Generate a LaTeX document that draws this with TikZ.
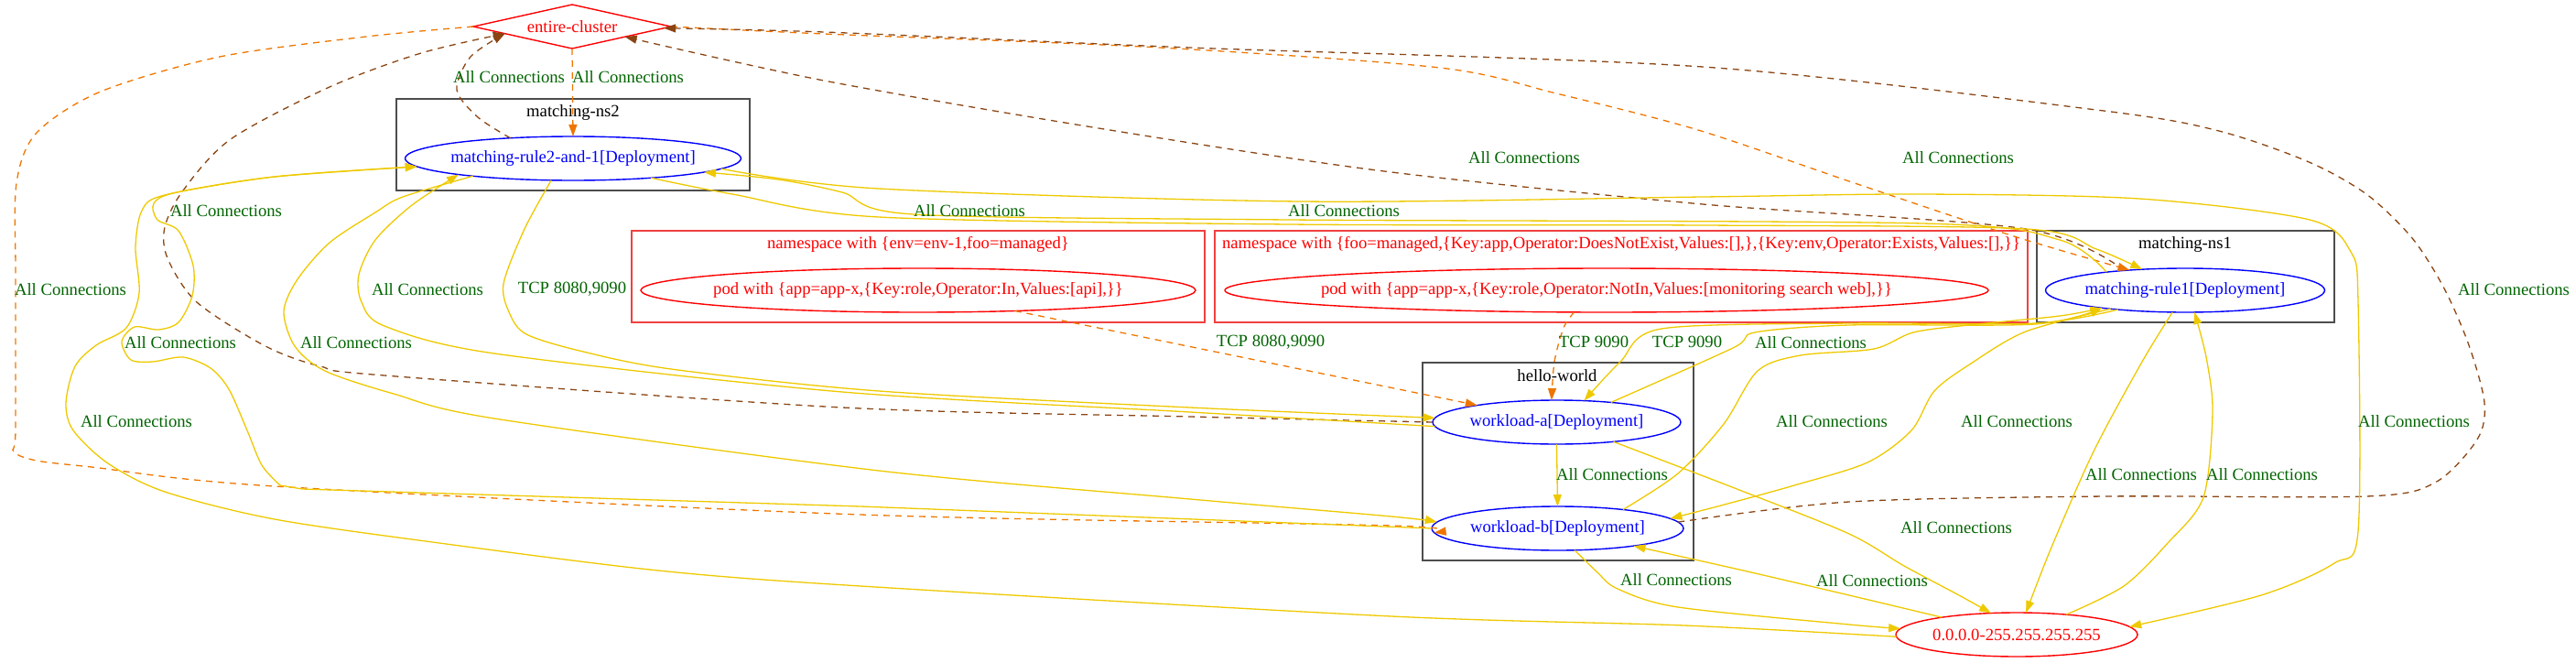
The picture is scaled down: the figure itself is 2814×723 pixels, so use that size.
\documentclass[tikz,border=0pt]{standalone}
\usepackage{fontspec}
\setmainfont{Liberation Serif}
\usetikzlibrary{arrows.meta,shapes.geometric}
\definecolor{cY}{HTML}{EEC900}
\definecolor{cO}{HTML}{EE7600}
\definecolor{cB}{HTML}{8B4513}
\definecolor{cG}{HTML}{006400}
\definecolor{cBox}{HTML}{4D4D4D}
\definecolor{cNs}{HTML}{F04040}
\begin{document}
\begin{tikzpicture}[x=1pt,y=-1pt,
  every node/.style={font=\fontsize{18.67}{22}\selectfont, outer sep=0pt, inner sep=0pt},
  wl/.style={ellipse, draw=blue, text=blue, line width=1.4pt, minimum height=48pt},
  ipn/.style={ellipse, draw=red, text=red, line width=1.4pt, minimum height=48pt},
  clu/.style={draw=cBox, line width=2pt, rectangle, minimum height=100pt},
  nsbox/.style={draw=cNs, line width=2pt, rectangle, minimum height=100pt},
  lbl/.style={text=cG},
  tipa/.style={-{Triangle[length=13pt,width=9pt]}},
  ye/.style={draw=cY, line width=1.3pt, tipa},
  oe/.style={draw=cO, line width=1.3pt, dash pattern=on 7pt off 6pt, tipa},
  be/.style={draw=cB, line width=1.3pt, dash pattern=on 7pt off 6pt, tipa},
]
\useasboundingbox (0,0) rectangle (2814,723);

% clusters
\node[clu, minimum width=386pt] (ns2box) at (626,158) {};
\node (ns2lab) at (626,123) {matching-ns2};
\node[nsbox, minimum width=626pt] (nsAbox) at (1003,302) {};
\node[text=red] (nsAlab) at (1003,267) {namespace with \{env=env-1,foo=managed\}};
\node[nsbox, minimum width=888pt] (nsBbox) at (1771,302) {};
\node[text=red] (nsBlab) at (1771,267) {namespace with \{foo=managed,\{Key:app,Operator:DoesNotExist,Values:[],\},\{Key:env,Operator:Exists,Values:[],\}\}};
\node[clu, minimum width=325pt] (ns1box) at (2387.5,302) {};
\node (ns1lab) at (2387,267) {matching-ns1};
\node[clu, minimum width=296pt, minimum height=216pt] (hwbox) at (1702,504) {};
\node (hwlab) at (1701,410) {hello-world};

% nodes
\node[diamond, draw=red, text=red, line width=1.4pt, shape aspect=4.5, minimum width=216pt, minimum height=48pt] (E) at (625,29) {\makebox[0pt]{entire-cluster}};
\node[wl, minimum width=367pt] (M2) at (626,173) {\makebox[0pt]{matching-rule2-and-1[Deployment]}};
\node[ipn, minimum width=606pt] (P1) at (1003,317) {\makebox[0pt]{pod with \{app=app-x,\{Key:role,Operator:In,Values:[api],\}\}}};
\node[ipn, minimum width=834pt] (P2) at (1755,317) {\makebox[0pt]{pod with \{app=app-x,\{Key:role,Operator:NotIn,Values:[monitoring search web],\}\}}};
\node[wl, minimum width=305pt] (M1) at (2387,317) {\makebox[0pt]{matching-rule1[Deployment]}};
\node[wl, minimum width=271pt] (A) at (1700.5,461) {\makebox[0pt]{workload-a[Deployment]}};
\node[wl, minimum width=275pt] (B) at (1701.5,577) {\makebox[0pt]{workload-b[Deployment]}};
\node[ipn, minimum width=264pt] (I) at (2203,693) {\makebox[0pt]{0.0.0.0-255.255.255.255}};

% entire-cluster edges
\draw[oe] (E.south) -- (M2.north);
\draw[be] plot[smooth] coordinates {(M2.162) (522,128) (499,98) (514,62) (E.186)};
\draw[oe] plot[smooth] coordinates {(E.west) (400,40) (240,62) (110,100) (40,145) (18,200) (17,300) (17,470) (15,493) (40,503) (100,510) (300,531) (940,562) (1520,574) (B.182)};
\draw[be] plot[smooth] coordinates {(A.180) (1300,455) (920,445) (420,410) (350,400) (290,378) (215,330) (183,282) (180,248) (200,208) (252,152) (360,95) (460,58) (E.186)};
\draw[be] plot[smooth] coordinates {(M1.162) (2213,250) (1860,223) (1512,187) (1200,140) (900,88) (E.349)};
\draw[oe] plot[smooth] coordinates {(E.east) (900,37) (1267,52) (1573,74) (1700,102) (1855,142) (2026,200) (2200,258) (M1.160)};
\draw[be] plot[smooth] coordinates {(B.3) (2020,548) (2300,542) (2585,542) (2660,527) (2706,480) (2714,440) (2697,377) (2670,315) (2635,260) (2585,212) (2520,176) (2420,142) (2290,120) (1860,73) (1300,52) (900,35) (E.359)};

% pod edges
\draw[oe] (P1.348) -- (A.168);
\draw[oe] plot[smooth] coordinates {(P2.214) (1708,358) (1698,395) (A.103)};

% workload edges
\draw[ye] plot[smooth] coordinates {(M2.225) (573,250) (550,310) (557,343) (575,365) (633,383) (733,403) (960,427) (1300,445) (A.178)};
\draw[ye] plot[smooth] coordinates {(A.182) (1300,450) (920,428) (540,386) (420,356) (395,330) (392,300) (410,262) (450,224) (M2.188)};
\draw[ye] plot[smooth] coordinates {(M2.190) (440,215) (410,232) (360,265) (325,305) (310,340) (322,378) (355,405) (430,430) (540,457) (960,514) (1300,545) (1520,564) (B.177)};
\draw[ye] (B.180) -- (940,553) -- (330,534) -- plot[smooth] coordinates {(306,530) (286,508) (270,470) (250,425) (230,402) (200,390) (167,395) (143,393) (133,373) (147,357) (173,360) (195,352) (210,323) (211,290) (195,252) (172,240) (168,222) (193,210) (300,193) (M2.183)};
\draw[ye] plot[smooth] coordinates {(I.181) (1840,683) (1520,673) (940,640) (719,623) (480,593) (300,567) (180,537) (118,506) (80,470) (72,440) (82,400) (105,377) (138,358) (152,320) (148,270) (155,230) (180,213) (300,193) (M2.183)};
\draw[ye] plot[smooth] coordinates {(M2.346) (800,212) (960,237) (1408,245) (1860,246) (2213,250) (2290,272) (M1.154)};
\draw[ye] plot[smooth] coordinates {(M1.167) (2250,262) (2100,244) (1408,240) (998,234) (920,210) (850,196) (M2.354)};
\draw[ye] plot[smooth] coordinates {(M2.356) (960,206) (1420,220) (1860,215) (2095,212) (2337,217) (2523,240) (2568,275) (2576,330) (2576,580) (2550,615) (2470,650) (I.4)};
\draw[ye] plot[smooth] coordinates {(M1.196) (2223,353) (2020,353) (1815,359) (1770,395) (A.38)};
\draw[ye] plot[smooth] coordinates {(A.20) (1893,380) (1917,363) (2020,355) (2223,354) (M1.192)};
\draw[ye] plot[smooth] coordinates {(B.16) (1833,517) (1883,463) (1920,405) (1967,388) (2047,381) (2090,363) (2150,355) (2250,345) (M1.192)};
\draw[ye] plot[smooth] coordinates {(M1.194) (2213,362) (2153,397) (2113,427) (2088,470) (2040,505) (1960,530) (1880,552) (B.5)};
\draw[ye] (A.south) -- (B.north);
\draw[ye] plot[smooth] coordinates {(A.341) (1900,535) (2020,583) (2080,618) (2140,650) (I.140)};
\draw[ye] plot[smooth] coordinates {(B.308) (1745,625) (1767,643) (1833,663) (2020,682) (I.177)};
\draw[ye] plot[smooth] coordinates {(I.167) (2020,650) (1900,622) (B.347)};
\draw[ye] plot[smooth] coordinates {(M1.240) (2340,395) (2287,493) (2240,600) (I.67)};
\draw[ye] plot[smooth] coordinates {(I.22) (2320,640) (2368,593) (2407,543) (2417,450) (2410,390) (M1.293)};

% labels
\node[lbl] (l1) at (556,84) {All Connections};
\node[lbl] (l2) at (686,84) {All Connections};
\node[lbl] (l3) at (1665,172) {All Connections};
\node[lbl] (l4) at (2139,172) {All Connections};
\node[lbl] (l5) at (77,316) {All Connections};
\node[lbl] (l6) at (247,230) {All Connections};
\node[lbl] (l7) at (197,374) {All Connections};
\node[lbl] (l8) at (149,460) {All Connections};
\node[lbl] (l9) at (389,374) {All Connections};
\node[lbl] (l10) at (467,316) {All Connections};
\node[lbl] (l11) at (625,316) {TCP 8080,9090};
\node[lbl] (l12) at (1059,230) {All Connections};
\node[lbl] (l13) at (1468,230) {All Connections};
\node[lbl] (l14) at (1388,374) {TCP 8080,9090};
\node[lbl] (l15) at (1741,373) {TCP 9090};
\node[lbl] (l16) at (1843,373) {TCP 9090};
\node[lbl] (l17) at (1978,374) {All Connections};
\node[lbl] (l18) at (1761,518) {All Connections};
\node[lbl] (l19) at (2001,460) {All Connections};
\node[lbl] (l20) at (2203,460) {All Connections};
\node[lbl] (l21) at (2137,576) {All Connections};
\node[lbl] (l22) at (2045,634) {All Connections};
\node[lbl] (l23) at (1831,633) {All Connections};
\node[lbl] (l24) at (2339,518) {All Connections};
\node[lbl] (l25) at (2471,518) {All Connections};
\node[lbl] (l26) at (2637,460) {All Connections};
\node[lbl] (l27) at (2746,316) {All Connections};
\end{tikzpicture}
\end{document}
